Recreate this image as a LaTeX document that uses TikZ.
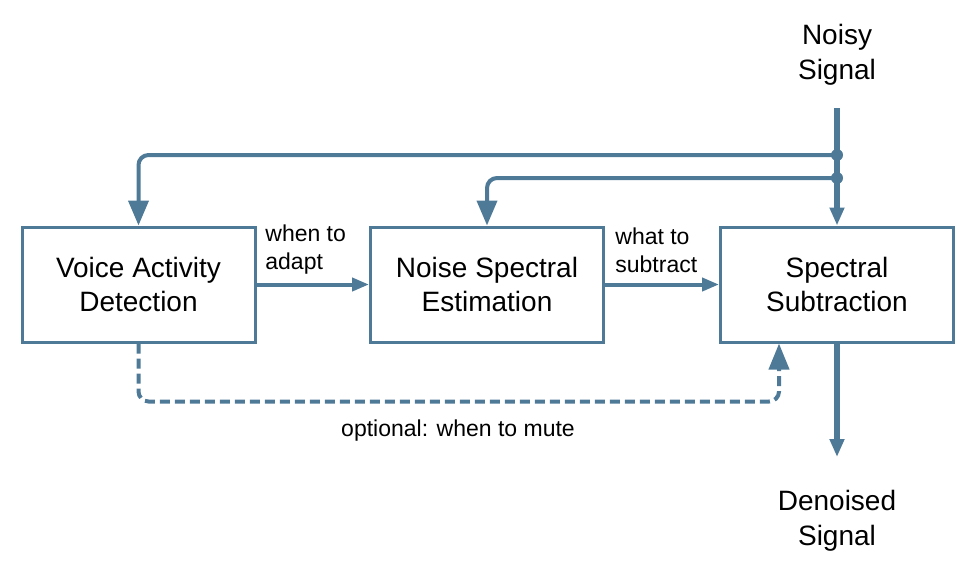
\documentclass[tikz,border=0pt]{standalone}
\usepackage{fontspec}
\setmainfont{Liberation Sans}
\usetikzlibrary{positioning}
\usetikzlibrary{arrows.meta}
\usetikzlibrary{calc}

\definecolor{flowblue}{RGB}{78,122,152}

\tikzset{
    block/.style={draw=flowblue, line width=1.5pt, minimum width=116.5pt, minimum height=57.5pt,
                  align=center, font=\fontsize{14}{17}\selectfont, inner sep=0pt},
    sigtext/.style={align=center, font=\fontsize{14}{17.5}\selectfont},
    lbl/.style={align=left, font=\fontsize{11.5}{14}\selectfont, inner sep=0pt},
    flow/.style={draw=flowblue, line width=2pt, -{Triangle[length=8.5pt, width=6.5pt]}},
    bigflow/.style={draw=flowblue, line width=2pt, rounded corners=5pt, -{Triangle[length=12.5pt, width=10pt]}},
    mainline/.style={draw=flowblue, line width=3pt, -{Triangle[length=9pt, width=7pt]}},
    tap/.style={circle, fill=flowblue, inner sep=0pt, minimum size=6pt},
}

\begin{document}
\begin{tikzpicture}[x=0.5pt, y=-0.5pt]

% page frame
\useasboundingbox (0,0) rectangle (974,563);

% Blocks
\node[block] (vad) at (138.5,284.5) {Voice Activity\\Detection};
\node[block] (nse) at (487,284.5) {Noise Spectral\\Estimation};
\node[block] (ss)  at (837,284.5) {Spectral\\Subtraction};

% input / output text
\node[sigtext] (noisy) at (837,55) {Noisy\\Signal};
\node[sigtext] (clean) at (837,521) {Denoised\\Signal};

% signal taps
\coordinate (nin) at (837,108);
\coordinate (nout) at (837,457);
\node[tap] (tapvad) at (837,155) {};
\node[tap] (tapnse) at (837,178) {};
\coordinate (mutein) at ($(ss.south)+(-58,0)$);

% main path
\draw[mainline] (nin) -- (ss.north);
\draw[mainline] (ss.south) -- (nout);

% feed to the estimators
\draw[bigflow] (tapvad.center) -| (vad.north);
\draw[bigflow] (tapnse.center) -| (nse.north);

% forward arrows
\draw[flow] (vad.east) -- (nse.west);
\draw[flow] (nse.east) -- (ss.west);
\node[lbl, anchor=west] (adapt) at (265,250) {when to\\adapt};
\node[lbl, anchor=west] (subtr) at (615,250) {what to\\subtract};

% optional mute path
\draw[draw=flowblue, line width=2pt, dash pattern=on 5pt off 2.5pt, rounded corners=5pt,
      -{Triangle[length=13pt, width=10pt]}] (vad.south) -- ++(0,58) -| (mutein);
\node[lbl] (mute) at (458,431) {optional: when to mute};

\end{tikzpicture}
\end{document}
